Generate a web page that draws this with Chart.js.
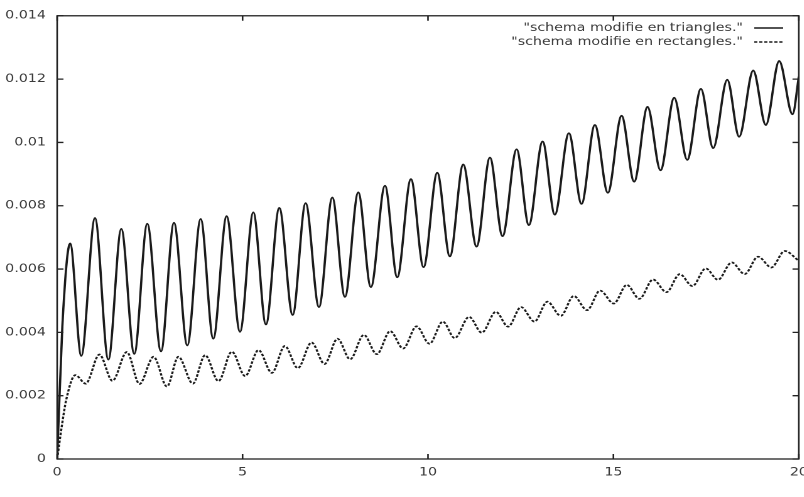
<!DOCTYPE html>
<html>
<head>
<meta charset="utf-8">
<script src="https://cdn.jsdelivr.net/npm/chart.js@4"></script>
<style>
  html, body { margin: 0; padding: 0; background: #fff; overflow: hidden; }
  /* the original plot was drawn at 640 wide and stretched sideways */
  #wrap { width: 660px; height: 497px; transform: scaleX(1.256); transform-origin: 0 0; }
</style>
</head>
<body>
<div id="wrap"><canvas id="myChart" width="660" height="497"></canvas></div>
<script>
const seriesNames = ['"schema modifie en triangles."', '"schema modifie en rectangles."']

// serie 1 : triangles (extremes)
const xTri = [0, 0.14, 0.35, 0.65, 1.02, 1.38, 1.73, 2.08, 2.43, 2.80, 3.15, 3.51, 3.87, 4.21, 4.57, 4.93,
  5.29, 5.63, 5.99, 6.35, 6.70, 7.06, 7.42, 7.76, 8.12, 8.46, 8.84, 9.17, 9.54, 9.88, 10.25, 10.59,
  10.95, 11.31, 11.67, 12.01, 12.39, 12.72, 13.09, 13.42, 13.80, 14.14, 14.50, 14.85, 15.22, 15.56,
  15.92, 16.27, 16.64, 16.99, 17.36, 17.69, 18.07, 18.39, 18.77, 19.11, 19.47, 19.83, 20]
const yTri = [0, 0.0042, 0.00681, 0.00326, 0.00761, 0.00314, 0.00727, 0.00332, 0.00743, 0.00340, 0.00746,
  0.00359, 0.00758, 0.00380, 0.00767, 0.00402, 0.00779, 0.00425, 0.00793, 0.00455, 0.00808, 0.00480,
  0.00826, 0.00512, 0.00842, 0.00543, 0.00863, 0.00574, 0.00884, 0.00606, 0.00904, 0.00640, 0.00930,
  0.00671, 0.00952, 0.00704, 0.00978, 0.00739, 0.01003, 0.00772, 0.01029, 0.00806, 0.01055, 0.00841,
  0.01084, 0.00876, 0.01112, 0.00912, 0.01141, 0.00945, 0.01169, 0.00982, 0.01198, 0.01018, 0.01227,
  0.01055, 0.01257, 0.01089, 0.01208]

// serie 2 : rectangles
const xRect = [0, 0.12, 0.25, 0.49, 0.77, 1.14, 1.49, 1.88, 2.22, 2.60, 2.96, 3.27, 3.66, 3.99, 4.35, 4.71,
  5.07, 5.43, 5.79, 6.14, 6.49, 6.86, 7.21, 7.56, 7.90, 8.27, 8.62, 8.98, 9.33, 9.69, 10.04, 10.40,
  10.72, 11.11, 11.45, 11.83, 12.16, 12.51, 12.87, 13.22, 13.58, 13.93, 14.29, 14.64, 15.01, 15.36,
  15.70, 16.07, 16.43, 16.79, 17.13, 17.49, 17.82, 18.19, 18.54, 18.90, 19.26, 19.62, 20]
const yRect = [0, 0.0010, 0.0019, 0.00265, 0.00238, 0.00330, 0.00247, 0.00338, 0.00237, 0.00323, 0.00229,
  0.00323, 0.00238, 0.00328, 0.00246, 0.00339, 0.00262, 0.00344, 0.00272, 0.00357, 0.00287, 0.00368,
  0.00300, 0.00380, 0.00315, 0.00392, 0.00331, 0.00404, 0.00349, 0.00419, 0.00364, 0.00434, 0.00382,
  0.00449, 0.00399, 0.00465, 0.00418, 0.00480, 0.00434, 0.00497, 0.00452, 0.00515, 0.00470, 0.00532,
  0.00491, 0.00550, 0.00506, 0.00567, 0.00527, 0.00584, 0.00546, 0.00602, 0.00566, 0.00621, 0.00584,
  0.00639, 0.00605, 0.00657, 0.00626]

const xTickValues = [0, 5, 10, 15, 20]
const xTickLabels = ['0', '5', '10', '15', '20']
const yTickValues = [0, 0.002, 0.004, 0.006, 0.008, 0.01, 0.012, 0.014]
const yTickLabels = ['0', '0.002', '0.004', '0.006', '0.008', '0.01', '0.012', '0.014']

const fontFamily = '"DejaVu Sans", sans-serif'
const lineColor = '#1a1a1a'
const textColor = '#3a3a3a'
const dashPattern = [2.5, 1.5]

const toPoints = (xs, ys) => xs.map((x, i) => ({ x: x, y: ys[i] }))

// cadre + petites graduations vers l'interieur, facon gnuplot
const framePlugin = {
  id: 'gnuplotFrame',
  afterDraw: (chart) => {
    const { ctx, chartArea } = chart
    const { left, right, top, bottom } = chartArea
    const xs = chart.scales.x
    const ys = chart.scales.y
    const len = 5

    ctx.save()
    ctx.strokeStyle = '#222'
    ctx.lineWidth = 1.3
    ctx.strokeRect(left, top, right - left, bottom - top)

    ctx.beginPath()
    xTickValues.forEach(v => {
      const px = xs.getPixelForValue(v)
      ctx.moveTo(px, bottom); ctx.lineTo(px, bottom - len)
      ctx.moveTo(px, top); ctx.lineTo(px, top + len)
    })
    yTickValues.forEach(v => {
      const py = ys.getPixelForValue(v)
      ctx.moveTo(left, py); ctx.lineTo(left + len, py)
      ctx.moveTo(right, py); ctx.lineTo(right - len, py)
    })
    ctx.stroke()

    // legende en haut a droite : texte puis echantillon de trait
    ctx.font = '11.3px ' + fontFamily
    ctx.textAlign = 'right'
    ctx.textBaseline = 'middle'
    const textRight = 591.5
    const rows = [28, 42]
    chart.data.datasets.forEach((ds, i) => {
      ctx.fillStyle = textColor
      ctx.fillText(ds.label, textRight, rows[i])
      ctx.beginPath()
      ctx.strokeStyle = lineColor
      ctx.lineWidth = 1.6
      ctx.setLineDash(ds.borderDash || [])
      ctx.moveTo(textRight + 9, rows[i])
      ctx.lineTo(textRight + 32, rows[i])
      ctx.stroke()
    })
    ctx.restore()
  }
}

const ctx = document.querySelector('#myChart').getContext('2d')

const config = {
  type: 'line',
  data: {
    datasets: [{
      label: seriesNames[0],
      data: toPoints(xTri, yTri),
      borderColor: lineColor,
      borderWidth: 1.8,
      pointRadius: 0,
      fill: false,
      cubicInterpolationMode: 'monotone'
    },
    {
      label: seriesNames[1],
      data: toPoints(xRect, yRect),
      borderColor: lineColor,
      borderWidth: 1.7,
      borderDash: dashPattern,
      pointRadius: 0,
      fill: false,
      cubicInterpolationMode: 'monotone'
    }]
  },
  plugins: [framePlugin],
  options: {
    responsive: false,
    animation: false,
    devicePixelRatio: 2,
    layout: { padding: { top: 10, right: 24, bottom: 0, left: 0 } },
    plugins: {
      legend: { display: false },
      tooltip: { enabled: false }
    },
    scales: {
      x: {
        type: 'linear',
        min: 0,
        max: 20,
        afterBuildTicks: (scale) => { scale.ticks = xTickValues.map(v => ({ value: v })) },
        afterFit: (scale) => { scale.height = 38 },
        grid: { display: false, drawTicks: false },
        border: { display: false },
        ticks: {
          padding: 7,
          color: textColor,
          font: { family: fontFamily, size: 11.3 },
          maxRotation: 0,
          callback: (value, index) => xTickLabels[index]
        }
      },
      y: {
        type: 'linear',
        min: 0,
        max: 0.014,
        afterBuildTicks: (scale) => { scale.ticks = yTickValues.map(v => ({ value: v })) },
        afterFit: (scale) => { scale.width = 45.5 },
        grid: { display: false, drawTicks: false },
        border: { display: false },
        ticks: {
          padding: 9,
          color: textColor,
          font: { family: fontFamily, size: 11.3 },
          callback: (value, index) => yTickLabels[index]
        }
      }
    }
  }
}

const myChart = new Chart(ctx, config)
</script>
</body>
</html>
